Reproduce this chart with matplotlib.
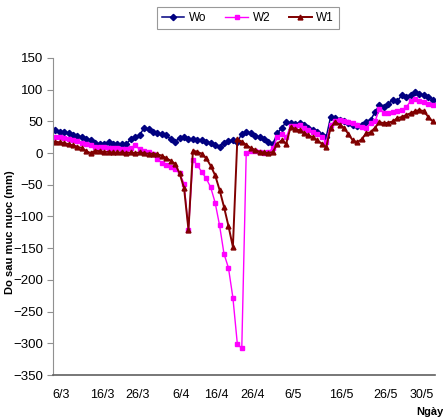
import numpy as np
import matplotlib.pyplot as plt

plt.rcParams['font.family'] = ['Liberation Sans', 'DejaVu Sans']

# ---- data (mm), daily from 6/3 ----
wo = [36, 34, 33, 31, 29, 27, 25, 22, 20, 16,
      14, 15, 17, 15, 14, 14, 14, 22, 26, 28,
      40, 38, 33, 32, 30, 28, 22, 18, 24, 25,
      23, 22, 21, 20, 18, 16, 12, 10, 16, 19,
      20, 18, 30, 34, 31, 27, 25, 22, 17, 15,
      31, 40, 49, 47, 46, 47, 44, 40, 37, 33,
      29, 25, 57, 55, 52, 50, 48, 45, 42, 45,
      49, 52, 65, 76, 72, 78, 84, 82, 91, 88,
      92, 96, 94, 91, 88, 84]
w2 = [26, 25, 24, 22, 21, 19, 16, 14, 12, 10,
      9, 9, 8, 8, 8, 7, 7, 8, 12, 6,
      3, 2, -2, -10, -15, -18, -22, -25, -32, -48,
      -121, -11, -19, -30, -40, -54, -78, -114, -159, -181,
      -228, -301, -308, 0, 3, 4, 2, 0, 1, 8,
      25, 30, 25, 43, 42, 44, 40, 37, 34, 30,
      26, 18, 45, 50, 52, 50, 49, 47, 44, 41,
      40, 47, 50, 70, 64, 63, 65, 66, 68, 72,
      82, 86, 82, 80, 78, 76]
w1 = [18, 17, 16, 14, 12, 10, 8, 3, 0, 4,
      3, 2, 2, 1, 1, 1, 0, 1, 0, 1,
      0, -1, -1, -2, -4, -8, -12, -17, -32, -55,
      -121, 4, 2, -1, -8, -20, -35, -58, -85, -115,
      -148, 22, 18, 13, 8, 5, 2, 1, 0, 2,
      15, 20, 15, 41, 38, 36, 32, 28, 25, 20,
      15, 9, 40, 49, 45, 40, 30, 20, 17, 22,
      31, 33, 40, 49, 47, 48, 50, 55, 57, 60,
      63, 66, 68, 66, 57, 50]

tick_labels = ['6/3', '16/3', '26/3', '6/4', '16/4', '26/4', '6/5', '16/5', '26/5', '30/5']
tick_pos = [1.3, 10.6, 18.6, 28.3, 36.2, 44.5, 53.5, 64.5, 74.4, 82.6]

days = np.arange(len(wo))

fig = plt.figure(figsize=(4.43, 4.20), dpi=100)
ax = fig.add_axes([53/443, 1 - 375/420, (435 - 53)/443, (375 - 58)/420])

ax.plot(days, wo, color='#000080', marker='D', markersize=3.2, lw=1.1, label='Wo')
ax.plot(days, w2, color='#FF00FF', marker='s', markersize=3.5, lw=1.0, label='W2')
ax.plot(days, w1, color='#800000', marker='^', markersize=3.5, lw=1.4, label='W1')

ax.set_xlim(-0.5, 85.5)
ax.set_ylim(-350, 150)
ax.set_yticks(np.arange(-350, 151, 50))
ax.set_xticks(tick_pos)
ax.set_xticklabels(tick_labels)

for s in ['top', 'right']:
    ax.spines[s].set_visible(False)
ax.spines['left'].set_color('#909090')
ax.spines['bottom'].set_color('#606060')
ax.spines['bottom'].set_linewidth(1.2)
ax.tick_params(axis='y', length=4, color='#909090', labelsize=9.5, pad=3)
ax.tick_params(axis='x', length=0, labelsize=9, pad=10)

fig.text(10/443, 1 - 232/420, 'Do sau muc nuoc (mm)', rotation=90,
         fontsize=8, fontweight='bold', ha='center', va='center')
fig.text(416/443, 1 - 412/420, 'Ngày', fontsize=8, fontweight='bold',
         ha='left', va='center')

leg = fig.legend(loc='center', bbox_to_anchor=(248/443, 1 - 18/420), ncol=3,
                 fontsize=8.5, frameon=True, fancybox=False, handlelength=1.9,
                 columnspacing=1.6, handletextpad=0.4, borderpad=0.4)
leg.get_frame().set_edgecolor('#808080')
leg.get_frame().set_linewidth(0.8)

fig.savefig('out.png', dpi=100)
